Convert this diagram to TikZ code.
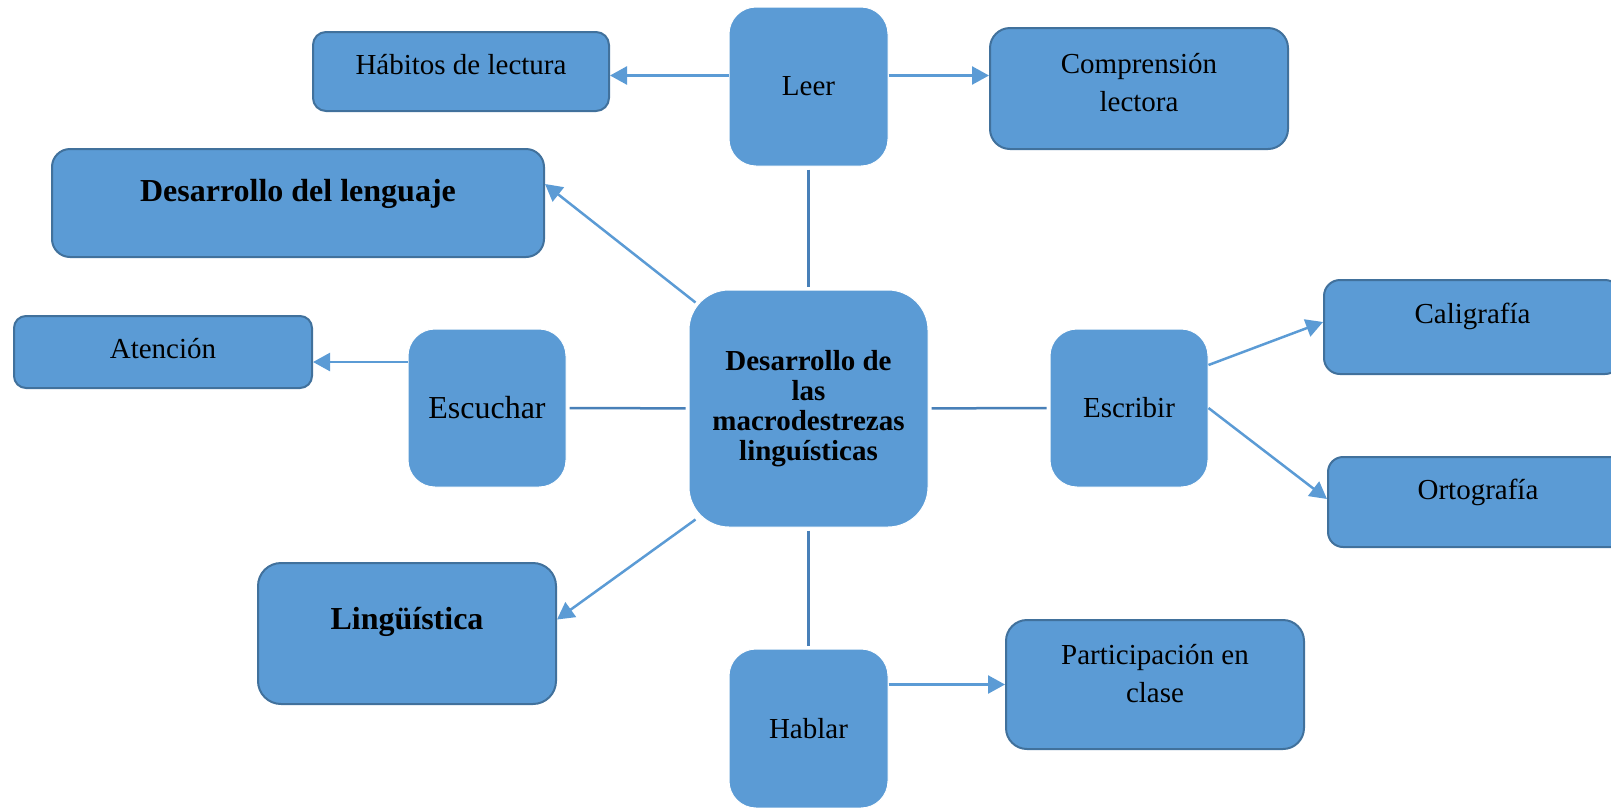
\documentclass[tikz,border=0pt]{standalone}
\usepackage{fontspec}
\setmainfont{Liberation Serif}
\usetikzlibrary{arrows.meta}
\definecolor{boxfill}{RGB}{91,155,213}
\definecolor{boxline}{RGB}{65,113,156}
\definecolor{linkcol}{RGB}{72,128,184}
\tikzset{
  hub/.style={fill=boxfill, draw=white, line width=1pt, rounded corners=27pt,
    minimum width=159pt, minimum height=159pt, inner sep=0pt,
    font=\fontsize{29}{38}\selectfont},
  leaf/.style={fill=boxfill, draw=boxline, line width=2pt, rounded corners=#1,
    inner sep=0pt, anchor=north west, align=flush center,
    font=\fontsize{29}{38}\selectfont},
  leaf/.default=16pt,
  link/.style={draw=linkcol, line width=2.5pt, shorten >=3pt, shorten <=3pt},
  arr/.style={draw=boxfill, line width=2.5pt, -{Triangle[length=17pt,width=18pt]}}
}
\begin{document}
\begin{tikzpicture}[x=1pt, y=-1pt]
\clip (0,0) rectangle (1611,807);
\node[hub] (leer) at (808.5,86.5) {Leer};
\node[hub, minimum width=239pt, minimum height=237pt, rounded corners=40pt, align=center,
  font=\bfseries\fontsize{29}{30}\selectfont] (centro) at (808.5,408.5)
  {Desarrollo de\\las\\macrodestrezas\\linguísticas};
\node[hub, minimum width=158pt, minimum height=158pt, font=\fontsize{32}{38}\selectfont] (escuchar) at (487,408) {Escuchar};
\node[hub, minimum width=158pt, minimum height=158pt] (escribir) at (1129,408) {Escribir};
\node[hub] (hablar) at (808.5,728.5) {Hablar};

\node[leaf=13pt, text width=296pt, text height=42pt, text depth=37pt] (habitos) at (312,31) {Hábitos de lectura};
\node[leaf=20pt, text width=298pt, text height=45pt, text depth=76pt] (compr) at (989,27) {Comprensión\\lectora};
\node[leaf=18pt, text width=492pt, text height=52pt, text depth=56pt,
  font=\bfseries\fontsize{32}{38}\selectfont] (deslen) at (51,148) {Desarrollo del lenguaje};
\node[leaf=12pt, text width=298pt, text height=42pt, text depth=30pt] (atencion) at (13,315) {Atención};
\node[leaf=23pt, text width=298pt, text height=66pt, text depth=75pt,
  font=\bfseries\fontsize{32}{38}\selectfont] (lingu) at (257,562) {Lingüística};
\node[leaf=16pt, text width=297pt, text height=43pt, text depth=51pt] (calig) at (1323,279) {Caligrafía};
\node[leaf=15pt, text width=300pt, text height=42pt, text depth=48pt] (orto) at (1327,456) {Ortografía};
\node[leaf=21pt, text width=298pt, text height=44pt, text depth=85pt] (partic) at (1005,619) {Participación en\\clase};

\draw[link] (leer) -- (centro);
\draw[link] (escuchar) -- (centro);
\draw[link] (centro) -- (escribir);
\draw[link] (centro) -- (hablar);

\coordinate (lh) at ([yshift=11pt]leer.west);
\coordinate (ea) at ([yshift=46pt]escuchar.west);
\draw[arr] (lh) -- (lh -| habitos.east);
\draw[arr] (lh -| leer.east) -- (lh -| compr.west);
\draw[arr] (ea) -- (ea -| atencion.east);
\draw[arr] (hablar.east |- partic.west) -- (partic.west);
\draw[arr] ([shift={(7pt,-13pt)}]centro.north west) -- ([yshift=19pt]deslen.east);
\draw[arr] ([shift={(7pt,8pt)}]centro.south west) -- ([yshift=14pt]lingu.east);
\draw[arr] ([yshift=43pt]escribir.east) -- ([yshift=5pt]calig.west);
\draw[arr] (escribir.east) -- ([yshift=3pt]orto.west);
\end{tikzpicture}
\end{document}
